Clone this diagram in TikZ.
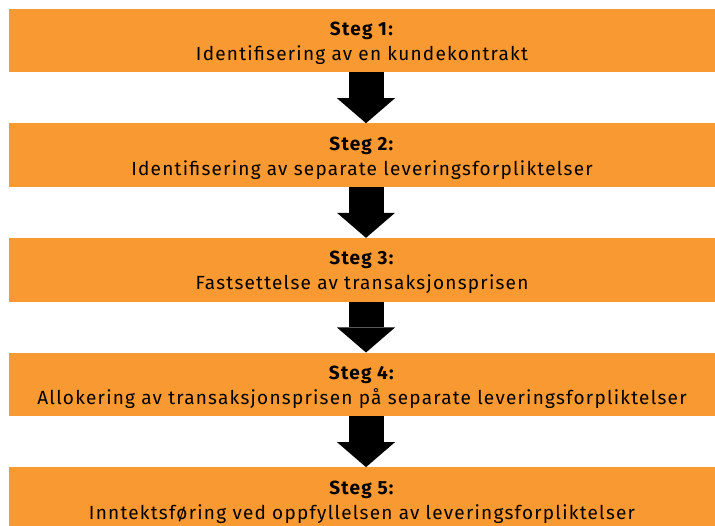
\documentclass[tikz,border=0pt]{standalone}
\usepackage{fontspec}
\setmainfont[LetterSpace=6.5]{Fira Sans}
\usetikzlibrary{positioning,arrows.meta}
\definecolor{stegorange}{RGB}{248,154,49}

\begin{document}
\begin{tikzpicture}[x=1pt,y=1pt,
    stepbox/.style={fill=stegorange,minimum width=706pt,minimum height=63.5pt,
      inner sep=0pt,align=center,text height=46.4pt,text depth=6pt,
      font=\fontsize{19}{25}\selectfont},
    flowarrow/.style={line width=35pt,
      -{Triangle[width=58pt,length=25pt,line width=0pt]}}]
    \useasboundingbox (0,0) rectangle (715,525);
    \node[stepbox] (s1) at (362,484.5) {\textbf{Steg 1:}\\Identifisering av en kundekontrakt};
    \node[stepbox,below=50.75pt of s1] (s2) {\textbf{Steg 2:}\\Identifisering av separate leveringsforpliktelser};
    \node[stepbox,below=50.75pt of s2] (s3) {\textbf{Steg 3:}\\Fastsettelse av transaksjonsprisen};
    \node[stepbox,below=50.75pt of s3] (s4) {\textbf{Steg 4:}\\Allokering av transaksjonsprisen på separate leveringsforpliktelser};
    \node[stepbox,below=50.75pt of s4] (s5) {\textbf{Steg 5:}\\Inntektsføring ved oppfyllelsen av leveringsforpliktelser};
    % arrows between the steps
    \foreach \a/\b in {s1/s2,s2/s3,s3/s4,s4/s5}
      \draw[flowarrow] ([xshift=4pt]\a.south) -- ([xshift=4pt]\b.north);
\end{tikzpicture}
\end{document}
